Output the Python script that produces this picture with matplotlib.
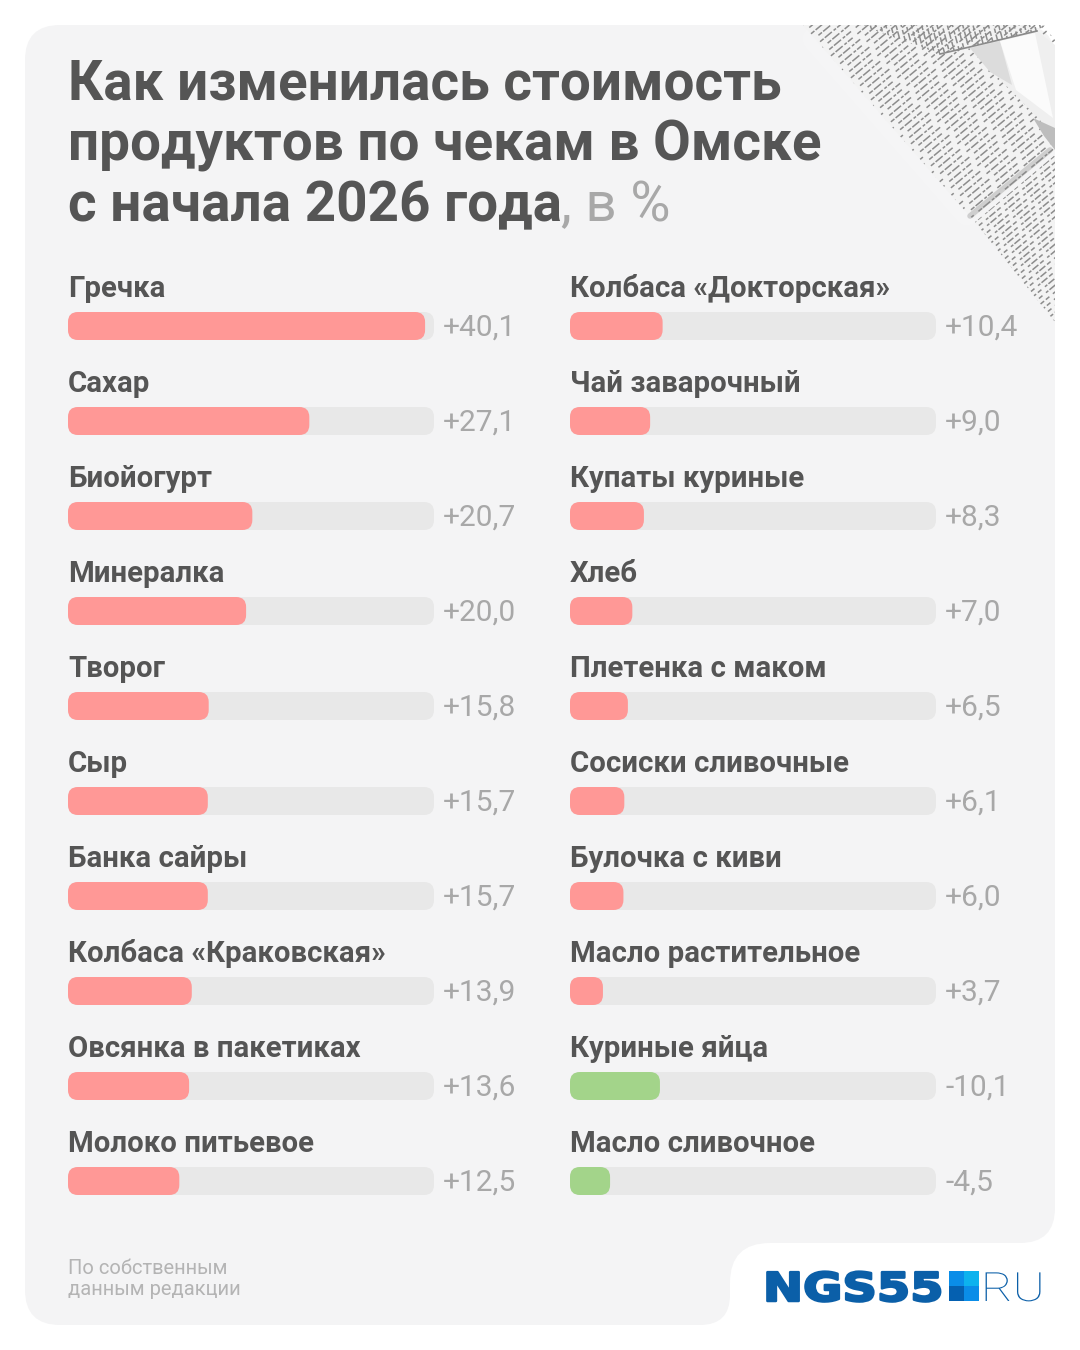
import matplotlib
matplotlib.use("Agg")
import matplotlib.pyplot as plt
from matplotlib.collections import LineCollection
from matplotlib.patches import FancyBboxPatch, PathPatch, Polygon, Rectangle
from matplotlib.path import Path
from matplotlib.patheffects import AbstractPathEffect
from matplotlib.transforms import Affine2D

plt.rcParams['font.family'] = ['Roboto', 'DejaVu Sans']

# Data
left_names = ['Гречка', 'Сахар', 'Биойогурт', 'Минералка', 'Творог', 'Сыр', 'Банка сайры',
              'Колбаса «Краковская»', 'Овсянка в пакетиках', 'Молоко питьевое']
left_values = [40.1, 27.1, 20.7, 20.0, 15.8, 15.7, 15.7, 13.9, 13.6, 12.5]
right_names = ['Колбаса «Докторская»', 'Чай заварочный', 'Купаты куриные', 'Хлеб', 'Плетенка с маком',
               'Сосиски сливочные', 'Булочка с киви', 'Масло растительное', 'Куриные яйца', 'Масло сливочное']
right_values = [10.4, 9.0, 8.3, 7.0, 6.5, 6.1, 6.0, 3.7, -10.1, -4.5]
title_lines = ['Как изменилась стоимость', 'продуктов по чекам в Омске', 'с начала 2026 года']
title_unit = ', в %'
source_lines = ['По собственным', 'данным редакции']

DARK = '#555555'
GREY = '#a8a8a8'
CARD = '#f4f4f5'
TRACK = '#e8e8e8'
RED = '#ff9896'
GREEN = '#a3d48a'
BLUE = '#0b5fa8'
AXIS_MAX = 41.1


class StretchX(AbstractPathEffect):
    # widens a text around its left edge, for the wide logo letters
    def __init__(self, x0, factor, stroke=0):
        super().__init__()
        self.x0 = x0
        self.factor = factor
        self.stroke = stroke

    def draw_path(self, renderer, gc, tpath, affine, rgbFace=None):
        stretch = Affine2D().translate(-self.x0, 0).scale(self.factor, 1).translate(self.x0, 0)
        gc0 = renderer.new_gc()
        gc0.copy_properties(gc)
        gc0.set_linewidth(self.stroke)
        gc0.set_foreground(BLUE)
        renderer.draw_path(gc0, tpath, affine + stretch, rgbFace)
        gc0.restore()


fig = plt.figure(figsize=(10.8, 13.5), dpi=100, facecolor='white')

# Background in pixel coordinates
bg = fig.add_axes([0, 0, 1, 1])
bg.set_xlim(0, 1080)
bg.set_ylim(1350, 0)
bg.axis('off')

# Card with the notch for the logo
M, L, C = Path.MOVETO, Path.LINETO, Path.CURVE3
card_verts = [(60, 25), (1020, 25), (1055, 25), (1055, 60), (1055, 1208), (1055, 1243), (1020, 1243),
              (770, 1243), (730, 1243), (730, 1283), (730, 1295), (730, 1325), (700, 1325),
              (60, 1325), (25, 1325), (25, 1290), (25, 60), (25, 25), (60, 25)]
card_codes = [M, L, C, C, L, C, C, L, C, C, L, C, C, L, C, C, L, C, C]
card = PathPatch(Path(card_verts, card_codes), facecolor=CARD, edgecolor='none')
bg.add_patch(card)

# Receipt in the corner
main_band = [(803, 25), (1043, 25), (1055, 40), (1055, 150), (973, 219), (967, 213)]
low_band = [(975, 222), (1055, 155), (1055, 322)]
top_band = [(860, 25), (1045, 25), (1037, 31), (940, 54)]
shade_band = [(968, 47), (1037, 31), (1055, 45), (1055, 145), (1040, 120)]

# soft light on the card along the receipt edge
for width, alpha in [(50, 0.06), (34, 0.08), (18, 0.1)]:
    edge = bg.plot([815, 967], [39, 213], color='white', lw=width, alpha=alpha, zorder=1,
                   solid_capstyle='round')[0]
    edge.set_clip_path(card)


def receipt_part(corners, start, step, direction, count, dash):
    part = Polygon(corners, closed=True, facecolor='#f3f3f3', edgecolor='none', zorder=2)
    bg.add_patch(part)
    part.set_clip_path(card)
    segs = [[(start[0] + k * step[0] - 200 * direction[0], start[1] + k * step[1] - 200 * direction[1]),
             (start[0] + k * step[0] + 200 * direction[0], start[1] + k * step[1] + 200 * direction[1])]
            for k in range(count)]
    styles = [(k * 7 % 5, dash) for k in range(count)]
    lines = LineCollection(segs, colors='#8c8c8c', linewidths=1.1, linestyles=styles, zorder=3)
    bg.add_collection(lines)
    lines.set_clip_path(part)


receipt_part(main_band, (803, 25), (4.0, 4.4), (0.77, -0.64), 66, (3, 1, 6, 1.5, 2, 1, 4, 4))
receipt_part(low_band, (975, 222), (3.4, 4.0), (0.77, -0.64), 30, (2, 1, 5, 1.5, 3, 3))
receipt_part(top_band, (860, 25), (5.0, -0.5), (0.26, 0.97), 38, (3, 1, 5, 2))

# folded part of the receipt, lit from the right
bg.add_patch(Polygon(shade_band, closed=True, facecolor='#efefef', edgecolor='none', zorder=4))
bg.add_patch(Polygon([(970, 48), (1000, 41), (1012, 85), (990, 72)], closed=True,
                     facecolor='#dcdcdc', edgecolor='none', zorder=4))
bg.add_patch(Polygon([(1000, 41), (1035, 33), (1053, 118), (1016, 90)], closed=True,
                     facecolor='#fbfbfb', edgecolor='none', zorder=4))
bg.add_patch(Polygon([(1033, 118), (1055, 128), (1055, 150), (1044, 136)], closed=True,
                     facecolor='#bdbdbd', edgecolor='none', zorder=4))
bg.plot([940, 1037], [54, 31], color='#8a8a8a', lw=1.2, zorder=5)
crease = bg.plot([970, 1050], [216, 150], color='#8a8a8a', lw=4, alpha=0.35, zorder=5,
                 solid_capstyle='round')[0]
crease.set_clip_path(card)

# Title
for y, line in zip([100, 161, 221], title_lines):
    bg.text(68, y, line, fontsize=39.4, fontweight='bold', color=DARK, va='baseline')
bg.text(561, 221, title_unit, fontsize=39.5, color=GREY, va='baseline')

# Source
for y, line in zip([1274, 1295], source_lines):
    bg.text(68, y, line, fontsize=14.5, color='#b4b4b4', va='baseline')

# Logo
bg.text(763, 1301, 'NGS55', fontsize=28.5, fontweight='bold', family='DejaVu Sans', color=BLUE, va='baseline',
        path_effects=[StretchX(763, 1.21, stroke=1.8)])
for x, y, col in [(949, 1271, '#0a8de8'), (964, 1271, '#0db2ee'), (949, 1286, '#0560b0'), (964, 1286, '#0a8de8')]:
    bg.add_patch(Rectangle((x, y), 15, 15, facecolor=col, edgecolor='none'))
bg.text(981, 1301, 'RU', fontsize=29, fontweight='light', color=BLUE, va='baseline',
        path_effects=[StretchX(981, 1.2)])


# Bar columns, one row is 95 px
def draw_column(left_px, names, values):
    ax = fig.add_axes([left_px / 1080, 1 - 1228.5 / 1350, 366 / 1080, 950 / 1350])
    ax.patch.set_alpha(0)
    ax.set_xlim(0, AXIS_MAX)
    ax.set_ylim(9.5, -0.5)
    ax.axis('off')
    bar_h = 28 / 95
    round_x = 10 * AXIS_MAX / 366
    aspect = (10 / 95) / round_x
    for i, (name, value) in enumerate(zip(names, values)):
        ax.add_patch(FancyBboxPatch((0, i - bar_h / 2), AXIS_MAX, bar_h, mutation_aspect=aspect,
                                    boxstyle=f'round,pad=0,rounding_size={round_x}',
                                    facecolor=TRACK, edgecolor='none'))
        ax.add_patch(FancyBboxPatch((0, i - bar_h / 2), abs(value), bar_h, mutation_aspect=aspect,
                                    boxstyle=f'round,pad=0,rounding_size={round_x}',
                                    facecolor=RED if value > 0 else GREEN, edgecolor='none'))
        ax.annotate(name, (0, i), xytext=(0, 29), textcoords='offset pixels', fontsize=21.2,
                    fontweight='bold', color=DARK, va='baseline')
        ax.annotate(f'{value:+.1f}'.replace('.', ','), (AXIS_MAX, i), xytext=(9, -10),
                    textcoords='offset pixels', fontsize=21.5, color=GREY, va='baseline')


draw_column(68, left_names, left_values)
draw_column(570, right_names, right_values)

fig.savefig('out.png', dpi=100, facecolor='white')
